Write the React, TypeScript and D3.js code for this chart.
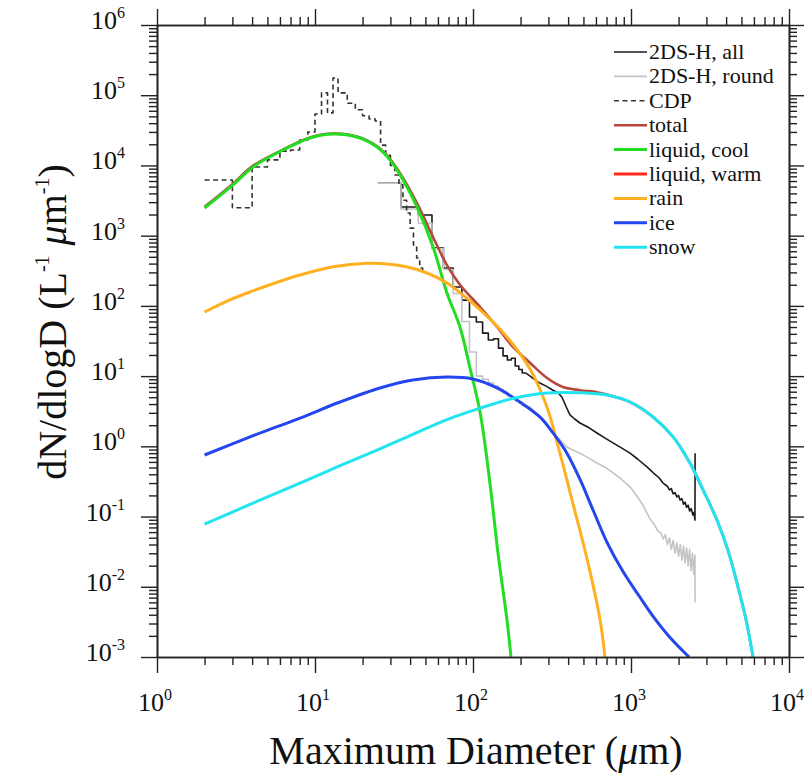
import * as d3 from 'd3'
import React, { useEffect, useRef } from 'react'

// CDP bins (um) and dN/dlogD
const cdpEdges = [2, 3, 4, 5, 6, 7, 8, 9, 10, 11, 12, 13, 14, 16, 18, 20, 22, 24, 26, 28, 30, 32, 34, 36, 38, 40, 42, 44, 46, 48, 50]
const cdpValues = [6.2e3, 2.5e3, 9.5e3, 1.2e4, 1.6e4, 1.66e4, 2.3e4, 3.0e4, 5.4e4, 1.08e5, 5.6e4, 1.76e5, 1.08e5, 7.7e4, 6.2e4, 5.1e4, 4.6e4, 4.3e4, 1.95e4, 1.4e4, 1.0e4, 7.3e3, 5.3e3, 3.2e3, 2.1e3, 1.28e3, 736, 481, 347, 304]

// 2DS-H bins (um), first part drawn as steps
const dsEdges = [25, 35, 45, 55, 65, 75, 85, 95, 105, 115, 125, 135, 145, 155, 165, 175, 185, 195, 205, 215]
const dsAllBins = [5.6e3, 2.56e3, 1.97e3, 668, 347, 186, 121, 69.5, 59, 41, 32.7, 34, 25, 19.4, 17, 18, 13.9, 12.4, 11.1]
const dsRoundBins = [5.6e3, 2.4e3, 1.5e3, 650, 330, 150, 60, 22, 10, 9, 8, 7.2, 6.5, 5.8, 5.2, 4.8, 4.4, 4.1, 3.8]

const dsAllTail: [number, number][] = [
  [230, 10.0], [250, 8.6], [265, 8.0], [290, 7.2], [321, 6.3], [345, 5.8], [366, 5.0], [390, 3.6], [411, 2.8],
  [440, 2.45], [475, 2.15], [540, 1.85], [609, 1.55], [690, 1.3], [769, 1.12], [870, 0.95], [986, 0.8], [1100, 0.66],
  [1262, 0.51], [1400, 0.41], [1500, 0.36], [1596, 0.3], [1700, 0.27], [1750, 0.24], [1800, 0.25], [1850, 0.21],
  [1900, 0.22], [1950, 0.19], [2000, 0.2], [2043, 0.172], [2100, 0.18], [2150, 0.15], [2200, 0.16], [2250, 0.135],
  [2300, 0.145], [2350, 0.12], [2400, 0.13], [2467, 0.105], [2510, 0.115], [2540, 0.089], [2545, 0.8],
]
const dsRoundTail: [number, number][] = [
  [230, 3.6], [260, 2.7], [290, 2.1], [321, 1.55], [360, 1.2], [393, 0.98], [430, 0.88], [475, 0.8], [540, 0.68],
  [609, 0.58], [690, 0.5], [769, 0.42], [870, 0.34], [986, 0.265], [1100, 0.19], [1180, 0.15], [1262, 0.112],
  [1330, 0.09], [1400, 0.078], [1480, 0.062], [1550, 0.058], [1600, 0.048], [1650, 0.055], [1700, 0.04], [1750, 0.05],
  [1800, 0.034], [1850, 0.046], [1900, 0.03], [1950, 0.042], [2000, 0.027], [2050, 0.04], [2100, 0.024], [2150, 0.038],
  [2200, 0.022], [2250, 0.036], [2300, 0.02], [2350, 0.034], [2400, 0.017], [2450, 0.03], [2500, 0.015], [2540, 0.028],
  [2545, 0.006],
]

// fitted distributions (D um, dN/dlogD)
const total: [number, number][] = [
  [2, 2.57e3], [3, 5.4e3], [4, 9.7e3], [6.3, 1.69e4], [9.3, 2.5e4], [13, 2.84e4], [18.4, 2.58e4], [24.7, 1.87e4],
  [29.8, 1.24e4], [36.1, 6.6e3], [44.2, 2.9e3], [55.9, 950], [68.4, 380], [82.7, 200], [111, 96],
  [142, 50], [179, 26], [230, 15.4], [294, 9.4], [371, 7.0], [475, 6.3], [609, 5.9], [705, 5.45], [986, 4.28],
  [1380, 2.62], [1850, 1.36], [2360, 0.58], [2860, 0.239], [3500, 0.089], [4110, 0.033], [4754, 0.01],
  [5345, 0.0034], [5920, 0.001],
]
const liquidCool: [number, number][] = [
  [2, 2.48e3], [3.03, 5.27e3], [4.05, 9.5e3], [6.27, 1.66e4], [9.3, 2.46e4], [13, 2.8e4], [18.4, 2.54e4],
  [24.7, 1.83e4], [29.8, 1.2e4], [36.1, 6.2e3], [44.2, 2.56e3], [55.9, 690], [68.4, 153], [82.7, 50], [95.7, 13],
  [111, 3.0], [128, 0.3], [144, 0.03], [164, 0.0034], [174, 0.001],
]
const rain: [number, number][] = [
  [2, 81.8], [2.8, 118], [3.88, 158], [5.6, 212], [8.04, 275], [13, 360], [21.3, 405], [29.8, 392], [44.2, 330],
  [68.4, 212], [111, 87.5], [164, 36], [230, 12.5], [294, 3.6], [355, 0.8], [430, 0.15], [527, 0.025],
  [637, 0.0034], [684, 0.001],
]
const ice: [number, number][] = [
  [2, 0.753], [3.88, 1.36], [8.04, 2.53], [14.4, 4.28], [25.8, 6.78], [41.7, 8.8], [68.4, 9.7], [100, 9.1],
  [142, 6.78], [198, 4.28], [265, 2.62], [321, 1.55], [393, 0.8], [475, 0.34], [575, 0.124], [705, 0.043],
  [890, 0.0165], [1140, 0.0071], [1380, 0.0038], [1766, 0.0019], [2330, 0.001],
]
const snow: [number, number][] = [
  [2, 0.078], [3.88, 0.149], [8.04, 0.30], [14.4, 0.53], [25.8, 0.92], [41.7, 1.48], [68.4, 2.4], [111, 3.5],
  [179, 4.8], [294, 5.75], [475, 5.8], [705, 5.38], [986, 4.28], [1380, 2.62], [1850, 1.36], [2360, 0.58],
  [2860, 0.239], [3500, 0.089], [4110, 0.033], [4754, 0.01], [5345, 0.0034], [5920, 0.001],
]

const legendLabels = ['2DS-H, all', '2DS-H, round', 'CDP', 'total', 'liquid, cool', 'liquid, warm', 'rain', 'ice', 'snow']
const xTicks = [1, 10, 100, 1000, 10000]
const yTicks = [1e-3, 1e-2, 1e-1, 1, 10, 100, 1e3, 1e4, 1e5, 1e6]

const FONT = "'Liberation Serif'"

const styles: Record<string, { color: string; width: number; dash?: string }> = {
  '2DS-H, all': { color: '#1a1a1a', width: 1.6 },
  '2DS-H, round': { color: '#c4c4c4', width: 1.6 },
  'CDP': { color: '#333333', width: 1.6, dash: '5,3.5' },
  'total': { color: '#b5473c', width: 2.6 },
  'liquid, cool': { color: '#22dd22', width: 3 },
  'liquid, warm': { color: '#ff2a1a', width: 3 },
  'rain': { color: '#ffb020', width: 3 },
  'ice': { color: '#2446ee', width: 3 },
  'snow': { color: '#22e3f0', width: 3 },
}

function steps(edges: number[], values: number[]): [number, number][] {
  const pts: [number, number][] = []
  values.forEach((v, i) => {
    pts.push([edges[i], v])
    pts.push([edges[i + 1], v])
  })
  return pts
}

export default function App() {
  const ref = useRef<SVGSVGElement>(null)

  useEffect(() => {
    const svg = d3.select(ref.current)
    svg.selectAll('*').remove()

    const left = 157, right = 789, top = 25, bottom = 657
    const x = d3.scaleLog().domain([1, 1e4]).range([left, right])
    const y = d3.scaleLog().domain([1e-3, 1e6]).range([bottom, top])

    svg.append('defs').append('clipPath').attr('id', 'plot-clip')
      .append('rect').attr('x', left).attr('y', top).attr('width', right - left).attr('height', bottom - top)

    const line = d3.line<[number, number]>().x(d => x(d[0])).y(d => y(d[1]))
    const smooth = d3.line<[number, number]>().x(d => x(d[0])).y(d => y(d[1])).curve(d3.curveCatmullRom.alpha(0.5))

    const plot = svg.append('g').attr('clip-path', 'url(#plot-clip)')

    const series: [string, string][] = [
      ['2DS-H, all', line(steps(dsEdges, dsAllBins).concat(dsAllTail))!],
      ['2DS-H, round', line(steps(dsEdges, dsRoundBins).concat(dsRoundTail))!],
      ['CDP', line(steps(cdpEdges, cdpValues))!],
      ['total', smooth(total)!],
      ['liquid, cool', smooth(liquidCool)!],
      ['rain', smooth(rain)!],
      ['ice', smooth(ice)!],
      ['snow', smooth(snow)!],
    ]
    series.forEach(([name, d]) => {
      const s = styles[name]
      plot.append('path')
        .attr('d', d)
        .attr('fill', 'none')
        .attr('stroke', s.color)
        .attr('stroke-width', s.width)
        .attr('stroke-dasharray', s.dash || null)
        .attr('stroke-linejoin', 'round')
    })

    // axes, ticks outward on all sides
    const minorX = x.ticks().filter(t => !xTicks.includes(t))
    const minorY = y.ticks().filter(t => !yTicks.some(v => Math.abs(v - t) / v < 1e-6))
    const axisGroups = [
      [d3.axisBottom(x), `translate(0,${bottom})`, minorX, xTicks],
      [d3.axisTop(x), `translate(0,${top})`, minorX, xTicks],
      [d3.axisLeft(y), `translate(${left},0)`, minorY, yTicks],
      [d3.axisRight(y), `translate(${right},0)`, minorY, yTicks],
    ] as const
    axisGroups.forEach(([axis, tr, minor, major]) => {
      const gMinor = svg.append('g').attr('transform', tr)
        .call((axis as any).tickValues(minor).tickSize(8).tickSizeOuter(0).tickFormat(() => ''))
      const gMajor = svg.append('g').attr('transform', tr)
        .call((axis as any).tickValues(major).tickSize(16).tickSizeOuter(0).tickFormat(() => ''))
      ;[gMinor, gMajor].forEach(g => {
        g.selectAll('line').attr('stroke', '#222').attr('stroke-width', 1.4)
        g.select('.domain').attr('stroke', '#222').attr('stroke-width', 1.6)
      })
    })

    const txt = (sel: d3.Selection<any, unknown, null, undefined>) =>
      sel.append('text').style('font-family', FONT).attr('fill', '#111')

    // tick labels
    xTicks.forEach(t => {
      const el = txt(svg)
        .attr('x', x(t) - 2).attr('y', 711)
        .attr('text-anchor', 'middle')
        .style('font-size', '26px')
      el.append('tspan').text('10')
      el.append('tspan').attr('dy', -11).style('font-size', '16px').text(String(Math.round(Math.log10(t))))
    })
    yTicks.forEach(t => {
      const el = txt(svg)
        .attr('x', 125).attr('y', y(t) + 4)
        .attr('text-anchor', 'end')
        .style('font-size', '26px')
      el.append('tspan').text('10')
      el.append('tspan').attr('dy', -11).style('font-size', '16px').text(String(Math.round(Math.log10(t))))
    })

    // axis titles
    const xt = txt(svg)
      .attr('x', 476).attr('y', 764)
      .attr('text-anchor', 'middle')
      .style('font-size', '40px')
    xt.append('tspan').text('Maximum Diameter (')
    xt.append('tspan').style('font-style', 'italic').text('\u03bc')
    xt.append('tspan').text('m)')

    const yt = txt(svg)
      .attr('transform', 'translate(66,322) rotate(-90)')
      .attr('text-anchor', 'middle')
      .style('font-size', '40px')
    yt.append('tspan').text('dN/dlogD (L')
    yt.append('tspan').attr('dy', -17).style('font-size', '20px').text('-1')
    yt.append('tspan').attr('dy', 17).text(' ')
    yt.append('tspan').style('font-style', 'italic').text('\u03bc')
    yt.append('tspan').text('m')
    yt.append('tspan').attr('dy', -17).style('font-size', '20px').text('-1')
    yt.append('tspan').attr('dy', 17).text(')')

    // legend
    const lg = svg.append('g')
    legendLabels.forEach((name, i) => {
      const s = styles[name]
      const cy = 52 + i * 24.4
      lg.append('line')
        .attr('x1', 614).attr('x2', 647).attr('y1', cy).attr('y2', cy)
        .attr('stroke', s.color).attr('stroke-width', s.width)
        .attr('stroke-dasharray', s.dash || null)
      txt(lg)
        .attr('x', 649).attr('y', cy + 7)
        .style('font-size', '22px')
        .text(name)
    })
  }, [])

  return (
    <svg
      ref={ref}
      width={804}
      height={777}
      style={{ position: 'absolute', left: 0, top: 0, background: '#fff' }}
    />
  )
}
